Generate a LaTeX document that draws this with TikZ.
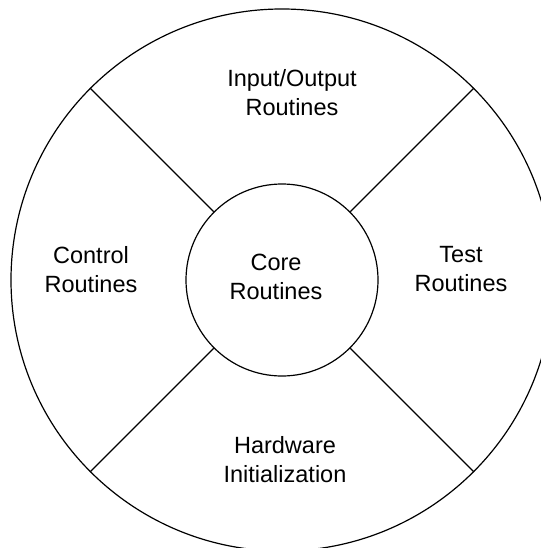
\documentclass[tikz,border=0pt]{standalone}
\usepackage{fontspec}
\setmainfont{Liberation Sans}
\begin{document}
\begin{tikzpicture}[x=1pt,y=1pt,
  ring/.style={draw=black,line width=1.2pt,circle,inner sep=0pt},
  divider/.style={draw=black,line width=1.2pt},
  lbl/.style={align=center,inner sep=0pt,font=\fontsize{23.5}{29}\selectfont}]
\useasboundingbox (0,0) rectangle (540,-548);
\node[ring,minimum size=542pt] (outer) at (282,-280) {};
\node[ring,minimum size=192pt] (inner) at (282,-280) {};
\draw[divider] (inner.45) -- (outer.45);
\draw[divider] (inner.135) -- (outer.135);
\draw[divider] (inner.225) -- (outer.225);
\draw[divider] (inner.315) -- (outer.315);
\node[lbl] (io) at (292,-93) {Input/Output\\Routines};
\node[lbl] (ctrl) at (91,-270) {Control\\Routines};
\node[lbl] (core) at (276,-277) {Core\\Routines};
\node[lbl] (test) at (461,-269) {Test\\Routines};
\node[lbl] (hw) at (285,-460) {Hardware\\Initialization};
\end{tikzpicture}
\end{document}
